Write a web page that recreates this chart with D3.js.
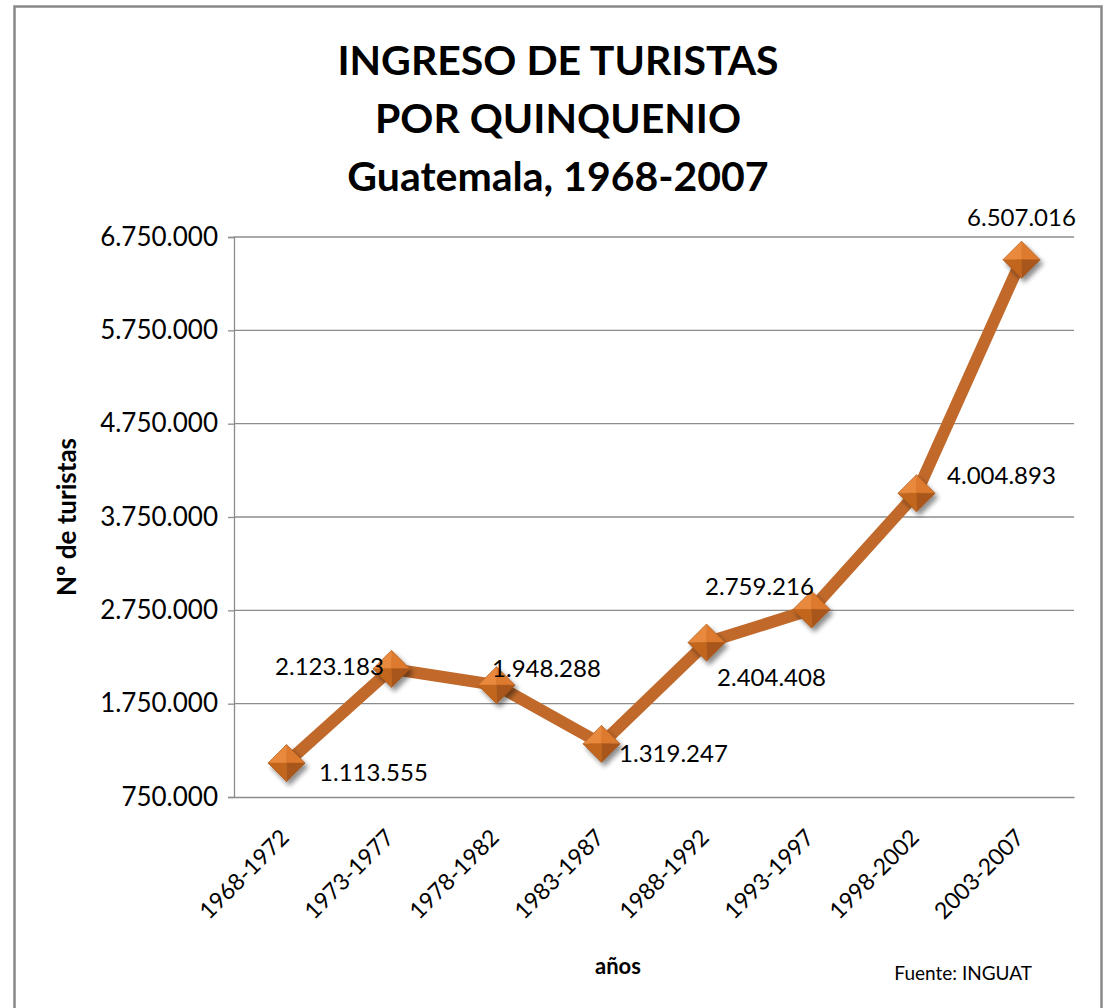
<!DOCTYPE html>
<html>
<head>
<meta charset="utf-8">
<script src="https://cdn.jsdelivr.net/npm/d3@7"></script>
<style>
  body { margin: 0; background: #fff; }
  svg { display: block; font-family: Lato, "Open Sans", sans-serif; }
</style>
</head>
<body>
<svg id="chart" width="1110" height="1008"></svg>
<script>
// data
var periods = ['1968-1972', '1973-1977', '1978-1982', '1983-1987',
               '1988-1992', '1993-1997', '1998-2002', '2003-2007'];
var tourists = [1113555, 2123183, 1948288, 1319247, 2404408, 2759216, 4004893, 6507016];
var yTicks = [750000, 1750000, 2750000, 3750000, 4750000, 5750000, 6750000];
var titleLines = ['INGRESO DE TURISTAS', 'POR QUINQUENIO', 'Guatemala, 1968-2007'];
// where each data label sits relative to its marker
var labelSide = ['right', 'left', 'aboveRight', 'right', 'belowRight', 'aboveLeft', 'farRight', 'above'];

var svg = d3.select('#chart');
var margin = {left: 234, right: 36, top: 237, bottom: 211};
var W = +svg.attr('width'), H = +svg.attr('height');
var plotW = W - margin.left - margin.right;
var plotH = H - margin.top - margin.bottom;

var lineColor = '#c0692b';
var gridColor = '#8c8c8c';

// dotted thousands separator like the original
var fmt = function(v) { return d3.format(',')(v).replace(/,/g, '.'); };

// outer chart frame
svg.append('rect')
  .attr('x', 14.5).attr('y', 6.5)
  .attr('width', 1087).attr('height', 1010)
  .attr('fill', 'none').attr('stroke', '#888').attr('stroke-width', 2.5);

var defs = svg.append('defs');
var shadow = defs.append('filter').attr('id', 'shadow')
  .attr('x', '-50%').attr('y', '-50%').attr('width', '200%').attr('height', '200%');
shadow.append('feGaussianBlur').attr('in', 'SourceAlpha').attr('stdDeviation', 2.5);
shadow.append('feOffset').attr('dx', 3).attr('dy', 4).attr('result', 'off');
shadow.append('feComponentTransfer').append('feFuncA').attr('type', 'linear').attr('slope', 0.45);
var merge = shadow.append('feMerge');
merge.append('feMergeNode');
merge.append('feMergeNode').attr('in', 'SourceGraphic');

// title
svg.append('g').selectAll('text').data(titleLines).enter().append('text')
  .attr('x', 558).attr('y', function(d, i) { return 75 + i * 58; })
  .attr('text-anchor', 'middle')
  .attr('font-size', 41).attr('font-weight', 'bold').attr('fill', '#000')
  .text(function(d) { return d; });

var g = svg.append('g').attr('transform', 'translate(' + margin.left + ',' + margin.top + ')');

var x = d3.scaleBand().domain(periods).range([0, plotW]);
var y = d3.scaleLinear().domain([750000, 6750000]).range([plotH, 0]);

// gridlines
g.append('g').selectAll('line').data(yTicks.slice(1)).enter().append('line')
  .attr('x1', 0).attr('x2', plotW)
  .attr('y1', function(d) { return y(d); }).attr('y2', function(d) { return y(d); })
  .attr('stroke', gridColor).attr('stroke-width', 1.3);

// y axis
var yAxis = g.append('g')
  .call(d3.axisLeft(y).tickValues(yTicks).tickFormat(fmt).tickSize(6).tickPadding(10));
yAxis.select('.domain').attr('stroke', gridColor).attr('stroke-width', 1.3);
yAxis.selectAll('.tick line').attr('stroke', gridColor).attr('stroke-width', 1.3);
yAxis.selectAll('text').attr('font-size', 26).attr('fill', '#000')
  .attr('font-family', 'Lato, sans-serif');

// x axis
var xAxis = g.append('g').attr('transform', 'translate(0,' + plotH + ')')
  .call(d3.axisBottom(x).tickSize(0).tickPadding(0));
xAxis.select('.domain').attr('stroke', gridColor).attr('stroke-width', 1.3);
xAxis.selectAll('text')
  .attr('font-size', 23).attr('fill', '#000').attr('font-family', 'Lato, sans-serif')
  .attr('text-anchor', 'end')
  .attr('dy', 0).attr('y', 0)
  .attr('transform', 'translate(4,42) rotate(-45)');

// axis titles
svg.append('text')
  .attr('transform', 'translate(76,' + (margin.top + plotH / 2) + ') rotate(-90)')
  .attr('text-anchor', 'middle').attr('font-size', 26).attr('font-weight', 'bold')
  .text('Nº  de turistas');
svg.append('text')
  .attr('x', 618).attr('y', 974)
  .attr('text-anchor', 'middle').attr('font-size', 22).attr('font-weight', 'bold')
  .text('años');
svg.append('text')
  .attr('x', 1032).attr('y', 980)
  .attr('text-anchor', 'end').attr('font-size', 19)
  .text('Fuente: INGUAT');

// series line
var line = d3.line()
  .x(function(d, i) { return x(periods[i]) + x.bandwidth() / 2; })
  .y(function(d) { return y(d); });
g.append('path').datum(tourists)
  .attr('d', line)
  .attr('fill', 'none').attr('stroke', lineColor)
  .attr('stroke-width', 12).attr('stroke-linejoin', 'round');

// bevelled diamond markers
var r = 18.5;
var facets = [
  {pts: [[0, 0], [-r, 0], [0, -r]], fill: '#e9893c'},
  {pts: [[0, 0], [0, -r], [r, 0]], fill: '#dd7a2e'},
  {pts: [[0, 0], [r, 0], [0, r]], fill: '#a9561a'},
  {pts: [[0, 0], [0, r], [-r, 0]], fill: '#c1661f'}
];
var markers = g.append('g').selectAll('g').data(tourists).enter().append('g')
  .attr('transform', function(d, i) {
    return 'translate(' + (x(periods[i]) + x.bandwidth() / 2) + ',' + y(d) + ')';
  })
  .attr('filter', 'url(#shadow)');
markers.selectAll('path').data(facets).enter().append('path')
  .attr('d', function(f) { return 'M' + f.pts.join('L') + 'Z'; })
  .attr('fill', function(f) { return f.fill; })
  .attr('stroke', function(f) { return f.fill; }).attr('stroke-width', 0.5);
markers.append('path')
  .attr('d', 'M' + [[-r, 0], [0, -r], [r, 0], [0, r]].join('L') + 'Z')
  .attr('fill', 'none').attr('stroke', '#9a4d16').attr('stroke-width', 0.8).attr('stroke-opacity', 0.6);

// data labels
var offsets = {
  right: [87, 10],
  left: [-62, -2],
  aboveRight: [50, -17],
  farRight: [85, -18],
  belowRight: [65, 35],
  aboveLeft: [-52, -23],
  above: [0, -42]
};
var labelNudge = [0, 0, 0, -15, 0, 0, 0, 0];
g.append('g').selectAll('text').data(tourists).enter().append('text')
  .attr('x', function(d, i) {
    return x(periods[i]) + x.bandwidth() / 2 + offsets[labelSide[i]][0] + labelNudge[i];
  })
  .attr('y', function(d, i) { return y(d) + offsets[labelSide[i]][1]; })
  .attr('dy', '0.35em')
  .attr('text-anchor', 'middle')
  .attr('font-size', 24).attr('fill', '#000')
  .text(fmt);
</script>
</body>
</html>
